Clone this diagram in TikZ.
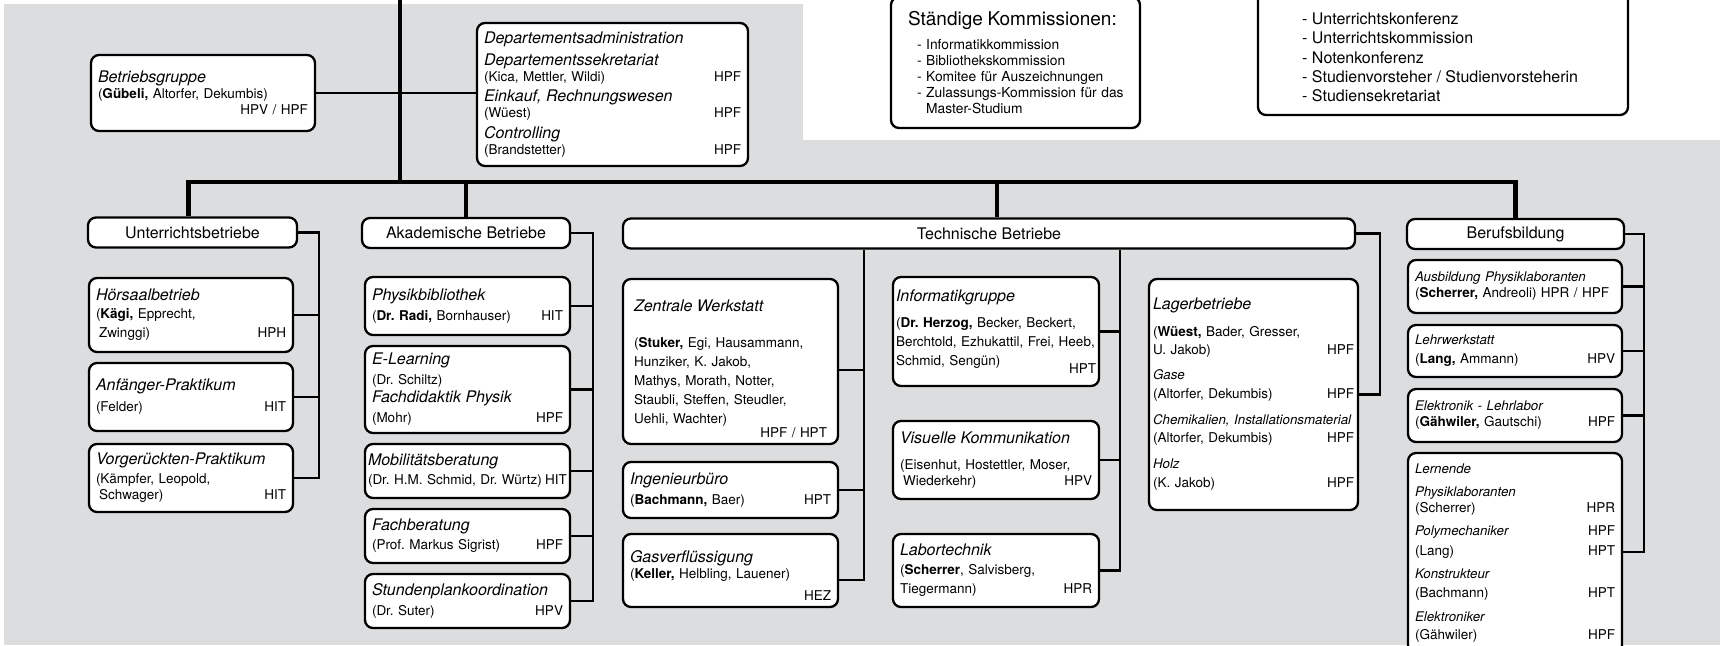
\documentclass[tikz,border=0pt]{standalone}
\usepackage{fontspec}
\setmainfont{TeX Gyre Heros}
\usepackage{xcolor}
\usepackage{tikz}
\usetikzlibrary{positioning, calc}
\definecolor{panel}{RGB}{220,221,223}
\newcommand{\unitfont}{\fontsize{13.5}{16}\selectfont\frenchspacing\hyphenpenalty=10000 \exhyphenpenalty=10000 }
\newcommand{\unitname}[1]{{\fontsize{16}{16}\selectfont\itshape #1}}
\newcommand{\subname}[1]{{\fontsize{13.3}{16}\selectfont\itshape #1}}
\tikzstyle{unitbox} = [draw, line width=2.3pt, rounded corners=8pt, fill=white, align=left, inner xsep=7pt, inner ysep=0pt, font=\unitfont]
\tikzstyle{grouphead} = [draw, line width=2.3pt, rounded corners=8pt, fill=white, inner sep=0pt, minimum height=30pt, font=\fontsize{16}{18}\selectfont]
\tikzstyle{link} = [line width=2.5pt]
\tikzstyle{bar} = [line width=4.5pt]

\begin{document}
\begin{tikzpicture}[x=1pt, y=-1pt]
\useasboundingbox (0,0) rectangle (1720,645);
\clip (0,0) rectangle (1720,645);

% Background panels
\fill[panel] (4,4) rectangle (803,645);
\fill[panel] (803,140) rectangle (1720,645);

% Top row
\node[unitbox, text width=210pt, minimum height=76pt] (bg) at (203,93)
  {\unitname{Betriebsgruppe}\\ (\textbf{Gübeli,} Altorfer, Dekumbis)\\ \mbox{}\hfill HPV / HPF};
\node[unitbox, text width=257pt, minimum height=143pt] (dept) at (612.5,94.5)
  {\unitname{Departementsadministration}\\[6pt]
   \unitname{Departementssekretariat}\\ (Kica, Mettler, Wildi)\hfill HPF\\[4pt]
   \unitname{Einkauf, Rechnungswesen}\\ (Wüest)\hfill HPF\\[5pt]
   \unitname{Controlling}\\ (Brandstetter)\hfill HPF};
\node[unitbox, inner xsep=0pt, text width=249pt, minimum height=131pt, font=\fontsize{13.8}{16}\selectfont] (komm) at (1015.5,62.5)
  {\hspace*{17pt}{\fontsize{19}{20}\selectfont Ständige Kommissionen:}\\[8pt]
   \hspace*{26pt}- Informatikkommission\\
   \hspace*{26pt}- Bibliothekskommission\\
   \hspace*{26pt}- Komitee für Auszeichnungen\\
   \hspace*{26pt}- Zulassungs-Kommission für das\\
   \hspace*{26pt}\phantom{- }Master-Studium};
\draw[line width=2.3pt, rounded corners=8pt, fill=white] (1258,-40) rectangle (1628,115);
\node[anchor=north west, inner sep=0pt, align=left, font=\fontsize{16}{19.3}\selectfont] (konf) at (1302,12.5)
  {- Unterrichtskonferenz\\ - Unterrichtskommission\\ - Notenkonferenz\\
   - Studienvorsteher / Studienvorsteherin\\ - Studiensekretariat};

% Group headers
\node[grouphead, minimum width=209pt] (ub) at (192.5,232.5) {Unterrichtsbetriebe};
\node[grouphead, minimum width=208pt] (ak) at (466,233) {Akademische Betriebe};
\node[grouphead, minimum width=732pt] (tb) at (989,233.5) {Technische Betriebe};
\node[grouphead, minimum width=217pt] (bb) at (1515.5,234) {Berufsbildung};

% Unterrichtsbetriebe
\node[unitbox, text width=190pt, minimum height=74pt] (hs) at (191,315)
  {\unitname{Hörsaalbetrieb}\\[2pt] (\textbf{Kägi,} Epprecht,\\[3pt] \hspace*{3pt}Zwinggi)\hfill HPH};
\node[unitbox, text width=190pt, minimum height=68pt] (ap) at (191,397)
  {\unitname{Anfänger-Praktikum}\\[5pt] (Felder)\hfill HIT};
\node[unitbox, text width=190pt, minimum height=68pt] (vp) at (191,478)
  {\unitname{Vorgerückten-Praktikum}\\[3pt] (Kämpfer, Leopold,\\ \hspace*{3pt}Schwager)\hfill HIT};

% Akademische Betriebe
\node[unitbox, text width=191pt, minimum height=58pt] (pb) at (467.5,306)
  {\unitname{Physikbibliothek}\\[4pt] (\textbf{Dr. Radi,} Bornhauser)\hfill HIT};
\node[unitbox, text width=191pt, minimum height=87pt] (el) at (467.5,389.5)
  {\unitname{E-Learning}\\[4pt] (Dr. Schiltz)\\[2pt] \unitname{Fachdidaktik Physik}\\[4pt] (Mohr)\hfill HPF};
\node[unitbox, inner xsep=3pt, text width=199pt, minimum height=54pt] (mb) at (467.5,471)
  {\unitname{Mobilitätsberatung}\\[3pt] (Dr. H.M. Schmid, Dr. Würtz)\hfill HIT};
\node[unitbox, text width=191pt, minimum height=54pt] (fb) at (467.5,536)
  {\unitname{Fachberatung}\\[3pt] (Prof. Markus Sigrist)\hfill HPF};
\node[unitbox, text width=191pt, minimum height=54pt] (sp) at (467.5,601)
  {\unitname{Stundenplankoordination}\\[4pt] (Dr. Suter)\hfill HPV};

% Technische Betriebe
\node[unitbox, inner xsep=11pt, text width=193pt, minimum height=165pt] (zw) at (730.5,361.5)
  {\rule{0pt}{27pt}\unitname{Zentrale Werkstatt}\\[20pt] (\textbf{Stuker,} Egi, Hausammann,\\[3pt] Hunziker, K. Jakob,\\[3pt]
   Mathys, Morath, Notter,\\[3pt] Staubli, Steffen, Steudler,\\[3pt] Uehli, Wachter)\\[-2pt] \mbox{}\hfill HPF / HPT};
\node[unitbox, text width=201pt, minimum height=56pt] (ib) at (730.5,490)
  {\unitname{Ingenieurbüro}\\[4pt] (\textbf{Bachmann,} Baer)\hfill HPT\hspace*{8pt}};
\node[unitbox, text width=201pt, minimum height=73pt] (gw) at (730.5,570.5)
  {\rule{0pt}{22pt}\unitname{Gasverflüssigung}\\ (\textbf{Keller,} Helbling, Lauener)\\[6pt] \mbox{}\hfill HEZ};
\node[unitbox, inner xsep=3pt, text width=200pt, minimum height=109pt] (ig) at (996,331.5)
  {\unitname{Informatikgruppe}\\[10pt] (\textbf{Dr. Herzog,} Becker, Beckert,\\[3pt]
   Berchtold, Ezhukattil, Frei, Heeb,\\[3pt] Schmid, Sengün)\hfill\raisebox{-8pt}{HPT}};
\node[unitbox, text width=192pt, minimum height=78pt] (vk) at (996,460)
  {\unitname{Visuelle Kommunikation}\\[10pt] (Eisenhut, Hostettler, Moser,\\ \hspace*{3pt}Wiederkehr)\hfill HPV};
\node[unitbox, text width=192pt, minimum height=73pt] (lt) at (996,570.5)
  {\unitname{Labortechnik}\\[3pt] (\textbf{Scherrer}, Salvisberg,\\[3pt] Tiegermann)\hfill HPR};
\node[unitbox, inner xsep=4pt, text width=201pt, minimum height=231pt] (lb) at (1253.5,394.5)
  {\unitname{Lagerbetriebe}\\[11pt] (\textbf{Wüest,} Bader, Gresser,\\[2pt] U. Jakob)\hfill HPF\\[9pt]
   \subname{Gase}\\[3pt] (Altorfer, Dekumbis)\hfill HPF\\[10pt]
   \subname{Chemikalien, Installationsmaterial}\\[2pt] (Altorfer, Dekumbis)\hfill HPF\\[10pt]
   \subname{Holz}\\[3pt] (K. Jakob)\hfill HPF};

% Berufsbildung
\node[unitbox, text width=200pt, minimum height=53pt] (ap2) at (1515,286.5)
  {\subname{Ausbildung Physiklaboranten}\\ (\textbf{Scherrer,} Andreoli) HPR / HPF};
\node[unitbox, text width=200pt, minimum height=52pt] (lw) at (1515,351)
  {\subname{Lehrwerkstatt}\\[3pt] (\textbf{Lang,} Ammann)\hfill HPV};
\node[unitbox, text width=200pt, minimum height=53pt] (el2) at (1515,415.5)
  {\subname{Elektronik - Lehrlabor}\\ (\textbf{Gähwiler,} Gautschi)\hfill HPF};
\node[unitbox, text width=200pt, minimum height=200pt] (ln) at (1515,553)
  {\subname{Lernende}\\[7pt] \subname{Physiklaboranten}\\ (Scherrer)\hfill HPR\\[7pt]
   \subname{Polymechaniker}\hfill HPF\\[4pt] (Lang)\hfill HPT\\[7pt]
   \subname{Konstrukteur}\\[3pt] (Bachmann)\hfill HPT\\[8pt]
   \subname{Elektroniker}\\[2pt] (Gähwiler)\hfill HPF};

% Main lines
\coordinate (root) at (400,-5);
\coordinate (hub) at (400,182);
\draw[link] (bg.east) -- (bg.east -| dept.west);
\draw[bar] (root) -- (hub);
\draw[bar] ([xshift=-4pt]ub.north) -- ([xshift=-4pt]ub.north |- hub) -- (bb.north |- hub) -- (bb.north);
\draw[bar] (ak.north) -- (ak.north |- hub);
\draw[bar] ([xshift=8pt]tb.north) -- ([xshift=8pt]tb.north |- hub);

% Group rails
\draw[link] (ub.east) -- ++(21,0) |- (vp.east);
\foreach \n in {hs,ap} \draw[link] (\n.east) -- ++(25,0);
\draw[link] (ak.east) -- ++(22,0) |- (sp.east);
\foreach \n in {pb,el,mb,fb} \draw[link] (\n.east) -- ++(22,0);
\draw[link] (tb.east) -- ++(24,0) |- (lb.east);
\draw[link] ([yshift=-9.5pt]gw.east) -| ($(zw.east |- tb.south)+(25,0)$);
\draw[link] ([yshift=-8.5pt]zw.east) -- ++(25,0);
\draw[link] (ib.east) -- ++(25,0);
\draw[link] (lt.east) -| ($(ig.east |- tb.south)+(20,0)$);
\foreach \n in {ig,vk} \draw[link] (\n.east) -- ++(20,0);
\draw[link] (bb.east) -- ++(19,0) |- ([yshift=1pt]ln.east);
\foreach \n in {ap2,lw,el2} \draw[link] (\n.east) -- ++(21,0);
\end{tikzpicture}
\end{document}
